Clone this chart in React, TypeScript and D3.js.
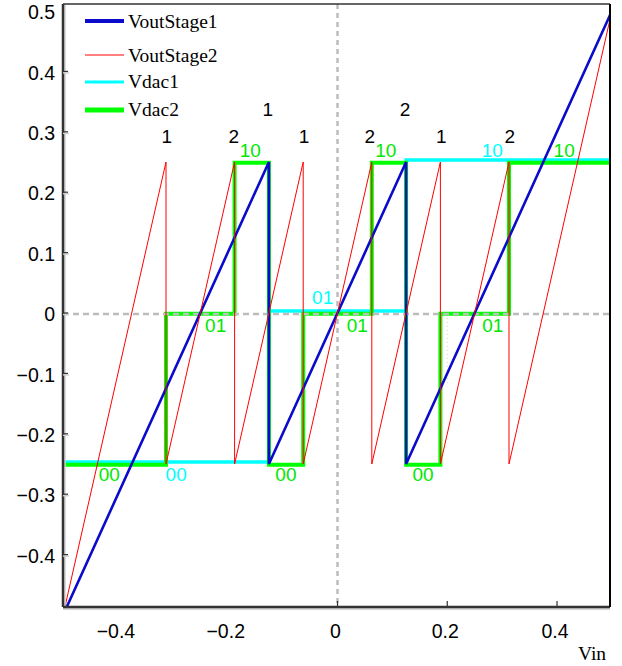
import React from "react";
import * as d3 from "d3";

// ---- data ----
const stage1Edges = [-0.5, -0.125, 0.125, 0.5];
const voutStage1Start = [-0.5, -0.25, -0.25];
const voutStage1End = [0.25, 0.25, 0.5];
const vdac1Levels = [-0.25, 0, 0.25];

const stage2Edges = [-0.5, -0.3125, -0.1875, -0.0625, 0.0625, 0.1875, 0.3125, 0.5];
const voutStage2Start = [-0.5, -0.25, -0.25, -0.25, -0.25, -0.25, -0.25];
const voutStage2End = [0.25, 0.25, 0.25, 0.25, 0.25, 0.25, 0.5];

const vdac2Edges = [-0.5, -0.3125, -0.1875, -0.125, -0.0625, 0.0625, 0.125, 0.1875, 0.3125, 0.5];
const vdac2Levels = [-0.25, 0, 0.25, -0.25, 0, 0.25, -0.25, 0, 0.25];

const xTickValues = [-0.4, -0.2, 0, 0.2, 0.4];
const xTickLabels = ["−0.4", "−0.2", "0", "0.2", "0.4"];
const xTickMarkValues = [0, 0.2, 0.4];
const yTickValues = [0.5, 0.4, 0.3, 0.2, 0.1, 0, -0.1, -0.2, -0.3, -0.4];
const yTickLabels = ["0.5", "0.4", "0.3", "0.2", "0.1", "0", "−0.1", "−0.2", "−0.3", "−0.4"];

// bit annotations (stage decisions)
const bitLabelX = [-0.311, -0.189, -0.127, -0.061, 0.059, 0.123, 0.189, 0.314];
const bitLabelY = [0.29, 0.29, 0.334, 0.29, 0.29, 0.334, 0.29, 0.29];
const bitLabelText = ["1", "2", "1", "1", "2", "2", "1", "2"];

// code annotations
const codeLabelX = [-0.159, 0.088, 0.282, 0.413, -0.222, -0.027, 0.036, 0.283, -0.416, -0.294, -0.094, 0.156];
const codeLabelY = [0.267, 0.267, 0.267, 0.267, -0.023, 0.023, -0.023, -0.023, -0.27, -0.27, -0.27, -0.27];
const codeLabelText = ["10", "10", "10", "10", "01", "01", "01", "01", "00", "00", "00", "00"];
const codeLabelSeries = ["Vdac2", "Vdac2", "Vdac1", "Vdac2", "Vdac2", "Vdac1", "Vdac2", "Vdac2", "Vdac2", "Vdac1", "Vdac2", "Vdac2"];

const legendNames = ["VoutStage1", "VoutStage2", "Vdac1", "Vdac2"];

// ---- styles ----
const BLUE = "#0b0bcc";
const RED = "#ff0000";
const CYAN = "#00ffff";
const GREEN = "#00ff00";
const GREEN_TEXT = "#00e800";
const SANS = "'Liberation Sans', Arial, sans-serif";
const SERIF = "'Liberation Serif', 'Times New Roman', serif";

const W = 622;
const H = 666;
const left = 63;
const right = 610;
const top = 4;
const bottom = 607;

const x = d3.scaleLinear().domain([-0.5, 0.5]).range([63.1, 611.9]);
const y = d3.scaleLinear().domain([-0.5, 0.5]).range([615, 11]);

function sawPoints(edges: number[], starts: number[], ends: number[]) {
  const pts: [number, number][] = [];
  for (let i = 0; i < starts.length; i++) {
    pts.push([edges[i], starts[i]]);
    pts.push([edges[i + 1], ends[i]]);
  }
  return pts;
}
function stepPoints(edges: number[], levels: number[]) {
  const pts: [number, number][] = [];
  for (let i = 0; i < levels.length; i++) {
    pts.push([edges[i], levels[i]]);
    pts.push([edges[i + 1], levels[i]]);
  }
  return pts;
}

const line = d3
  .line<[number, number]>()
  .x((d) => x(d[0]))
  .y((d) => y(d[1]));

export default function App() {
  const blue = line(sawPoints(stage1Edges, voutStage1Start, voutStage1End)) || "";
  const red = line(sawPoints(stage2Edges, voutStage2Start, voutStage2End)) || "";
  const cyan = line(stepPoints(stage1Edges, vdac1Levels)) || "";
  const green = line(stepPoints(vdac2Edges, vdac2Levels)) || "";

  const legendColors = [BLUE, RED, CYAN, GREEN];
  const legendWidths = [4, 1, 3, 5];
  const legendLineY = [21, 55, 82, 110];
  const legendTextY = [28, 62, 88, 116];

  return (
    <svg
      width={W}
      height={H}
      style={{ position: "absolute", left: 0, top: 0, background: "#fff" }}
    >
      <defs>
        <clipPath id="plot">
          <rect x={left} y={top} width={right - left} height={bottom - top} />
        </clipPath>
      </defs>

      <g clipPath="url(#plot)">
        <path d={cyan} fill="none" stroke={CYAN} strokeWidth={3.5} transform="translate(0,-2)" />
        <path d={green} fill="none" stroke={GREEN} strokeWidth={4} transform="translate(0,0.8)" />
        {/* zero reference lines */}
        <line x1={x(0)} x2={x(0)} y1={top} y2={bottom} stroke="#bdbdbd" strokeWidth={2.5} strokeDasharray="5,4" />
        <line x1={left} x2={right} y1={y(0) + 1} y2={y(0) + 1} stroke="#bdbdbd" strokeWidth={2.5} strokeDasharray="6,4" />
        <line x1={x(0.2)} x2={x(0.2)} y1={y(0) + 5} y2={y(-0.12)} stroke="#cfcfcf" strokeWidth={1} strokeDasharray="1,3" />
        <path d={blue} fill="none" stroke={BLUE} strokeWidth={2.6} />
        <path d={red} fill="none" stroke={RED} strokeWidth={1} />
      </g>

      {/* axes frame */}
      <line x1={left + 2} x2={left + 2} y1={top} y2={bottom + 2} stroke="#d0d0d0" strokeWidth={1.5} />
      <line x1={left} x2={right} y1={bottom + 2} y2={bottom + 2} stroke="#c8c8c8" strokeWidth={1.5} />
      <line x1={left} x2={left} y1={top} y2={bottom} stroke="#333" strokeWidth={2.5} />
      <line x1={left} x2={right} y1={bottom} y2={bottom} stroke="#333" strokeWidth={2.5} />
      <line x1={left} x2={right} y1={top} y2={top} stroke="#333" strokeWidth={1.5} />
      <line x1={right} x2={right} y1={top} y2={bottom} stroke="#000" strokeWidth={2} />

      {/* y ticks */}
      {yTickValues.map((v, i) => (
        <g key={"yt" + i}>
          {v < 0.45 && (
            <>
              <line x1={left} x2={left + 6} y1={y(v) + 1.5} y2={y(v) + 1.5} stroke="#d0d0d0" strokeWidth={1.5} />
              <line x1={left} x2={left + 5} y1={y(v)} y2={y(v)} stroke="#333" strokeWidth={1.2} />
            </>
          )}
          <text
            x={55}
            y={y(v) + 3}
            textAnchor="end"
            dominantBaseline="middle"
            fontFamily={SANS}
            fontSize={19.5}
            fill="#000"
          >
            {yTickLabels[i]}
          </text>
        </g>
      ))}

      {/* x ticks */}
      {xTickMarkValues.map((v, i) => (
        <line key={"xm" + i} x1={x(v)} x2={x(v)} y1={bottom} y2={bottom - 6} stroke="#333" strokeWidth={1.2} />
      ))}
      {xTickValues.map((v, i) => (
        <text
          key={"xt" + i}
          x={x(v) - 2}
          y={633}
          textAnchor="middle"
          dominantBaseline="middle"
          fontFamily={SANS}
          fontSize={19.5}
          fill="#000"
        >
          {xTickLabels[i]}
        </text>
      ))}
      <text x={578} y={660} fontFamily={SERIF} fontSize={19.5} fill="#000">
        Vin
      </text>

      {/* annotations */}
      {bitLabelText.map((t, i) => (
        <text
          key={"b" + i}
          x={x(bitLabelX[i])}
          y={y(bitLabelY[i])}
          textAnchor="middle"
          dominantBaseline="middle"
          fontFamily={SANS}
          fontSize={19}
          fill="#000"
        >
          {t}
        </text>
      ))}
      {codeLabelText.map((t, i) => (
        <text
          key={"c" + i}
          x={x(codeLabelX[i])}
          y={y(codeLabelY[i])}
          textAnchor="middle"
          dominantBaseline="middle"
          fontFamily={SANS}
          fontSize={19}
          fill={codeLabelSeries[i] === "Vdac1" ? CYAN : GREEN_TEXT}
        >
          {t}
        </text>
      ))}

      {/* legend */}
      {legendNames.map((n, i) => (
        <g key={"lg" + i}>
          <line
            x1={85}
            x2={124}
            y1={legendLineY[i]}
            y2={legendLineY[i]}
            stroke={legendColors[i]}
            strokeWidth={legendWidths[i]}
          />
          <text x={128} y={legendTextY[i]} fontFamily={SERIF} fontSize={19.5} fill="#000">
            {n}
          </text>
        </g>
      ))}
    </svg>
  );
}
